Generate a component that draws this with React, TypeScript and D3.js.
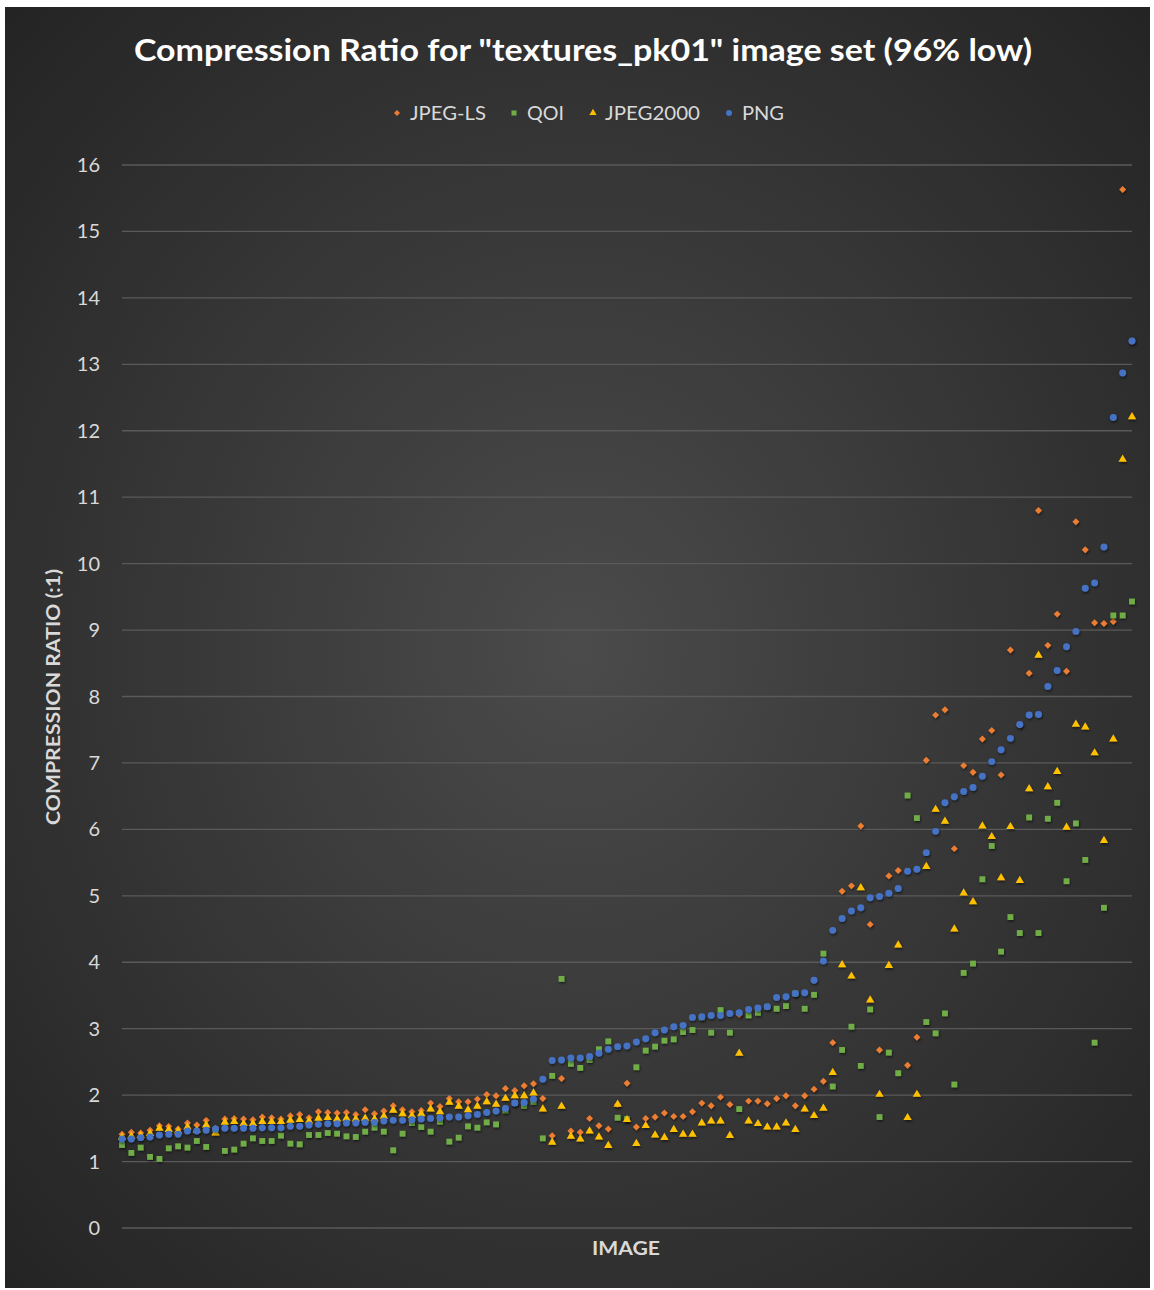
import React from "react";
import * as d3 from "d3";

const seriesNames = ["JPEG-LS", "QOI", "JPEG2000", "PNG"];
const seriesColors = ["#ED7D31", "#70AD47", "#FFC000", "#4472C4"];
const yTicks = [0, 1, 2, 3, 4, 5, 6, 7, 8, 9, 10, 11, 12, 13, 14, 15, 16];

const jpegLS = [
  1.41, 1.44, 1.43, 1.47, 1.54, 1.53, 1.49, 1.58, 1.55, 1.62,
  1.5, 1.64, 1.65, 1.64, 1.63, 1.67, 1.66, 1.64, 1.69, 1.71,
  1.66, 1.75, 1.74, 1.73, 1.74, 1.71, 1.78, 1.72, 1.76, 1.84,
  1.78, 1.75, 1.77, 1.88, 1.83, 1.95, 1.9, 1.9, 1.94, 2.01,
  1.99, 2.1, 2.07, 2.14, 2.17, 1.95, 1.39, 2.25, 1.46, 1.44,
  1.65, 1.54, 1.49, 1.86, 2.18, 1.52, 1.65, 1.67, 1.73, 1.68,
  1.68, 1.75, 1.88, 1.84, 1.97, 1.86, 3.21, 1.91, 1.91, 1.87,
  1.95, 1.99, 1.84, 1.99, 2.09, 2.21, 2.79, 5.07, 5.15, 6.05,
  4.57, 2.68, 5.3, 5.38, 2.45, 2.87, 7.04, 7.72, 7.8, 5.71,
  6.96, 6.86, 7.36, 7.49, 6.82, 8.7, 7.57, 8.35, 10.8, 8.77,
  9.24, 8.38, 10.63, 10.21, 9.11, 9.1, 9.13, 15.63, 13.35,
];

const qoi = [
  1.25, 1.13, 1.21, 1.07, 1.04, 1.2, 1.23, 1.21, 1.31, 1.22,
  1.48, 1.16, 1.18, 1.27, 1.35, 1.31, 1.31, 1.39, 1.27, 1.26,
  1.4, 1.4, 1.43, 1.42, 1.38, 1.37, 1.45, 1.51, 1.45, 1.17,
  1.42, 1.58, 1.52, 1.45, 1.6, 1.3, 1.36, 1.53, 1.51, 1.59,
  1.56, 1.77, 1.88, 1.84, 1.9, 1.35, 2.29, 3.75, 2.47, 2.41,
  2.53, 2.69, 2.81, 1.66, 1.64, 2.42, 2.67, 2.73, 2.82, 2.84,
  2.95, 2.98, 3.17, 2.94, 3.28, 2.94, 1.79, 3.2, 3.24, 3.33,
  3.3, 3.34, 3.53, 3.3, 3.51, 4.13, 2.13, 2.68, 3.03, 2.44,
  3.29, 1.67, 2.64, 2.33, 6.51, 6.17, 3.1, 2.93, 3.23, 2.16,
  3.84, 3.98, 5.25, 5.75, 4.16, 4.68, 4.44, 6.18, 4.44, 6.16,
  6.4, 5.22, 6.09, 5.54, 2.79, 4.82, 9.22, 9.22, 9.43,
];

const jpeg2000 = [
  1.37, 1.38, 1.39, 1.42, 1.5, 1.48, 1.46, 1.52, 1.47, 1.55,
  1.43, 1.59, 1.6, 1.57, 1.57, 1.6, 1.6, 1.6, 1.62, 1.63,
  1.61, 1.65, 1.66, 1.64, 1.65, 1.64, 1.65, 1.64, 1.68, 1.77,
  1.72, 1.69, 1.72, 1.79, 1.75, 1.89, 1.83, 1.78, 1.83, 1.9,
  1.86, 1.95, 1.99, 1.99, 2.03, 1.79, 1.29, 1.83, 1.38, 1.34,
  1.46, 1.37, 1.24, 1.86, 1.63, 1.27, 1.54, 1.4, 1.36, 1.48,
  1.41, 1.41, 1.58, 1.61, 1.61, 1.39, 2.63, 1.61, 1.57, 1.52,
  1.52, 1.58, 1.48, 1.79, 1.69, 1.8, 2.34, 3.96, 3.79, 5.12,
  3.43, 2.01, 3.95, 4.26, 1.66, 2.01, 5.44, 6.3, 6.12, 4.5,
  5.04, 4.91, 6.05, 5.89, 5.27, 6.04, 5.23, 6.61, 8.62, 6.64,
  6.87, 6.03, 7.58, 7.54, 7.15, 5.83, 7.36, 11.57, 12.21,
];

const png = [
  1.34, 1.34, 1.36, 1.37, 1.4, 1.41, 1.41, 1.46, 1.46, 1.47,
  1.49, 1.5, 1.5, 1.5, 1.5, 1.51, 1.51, 1.51, 1.53, 1.53,
  1.55, 1.56, 1.57, 1.57, 1.58, 1.58, 1.59, 1.59, 1.61, 1.62,
  1.62, 1.63, 1.64, 1.65, 1.66, 1.67, 1.67, 1.69, 1.71, 1.74,
  1.76, 1.8, 1.88, 1.89, 1.94, 2.24, 2.52, 2.53, 2.56, 2.56,
  2.58, 2.63, 2.69, 2.73, 2.74, 2.8, 2.85, 2.94, 2.98, 3.03,
  3.05, 3.17, 3.18, 3.2, 3.2, 3.23, 3.24, 3.29, 3.31, 3.33,
  3.47, 3.48, 3.53, 3.54, 3.73, 4.02, 4.48, 4.66, 4.77, 4.82,
  4.97, 4.99, 5.04, 5.11, 5.37, 5.4, 5.65, 5.97, 6.4, 6.49,
  6.57, 6.63, 6.8, 7.02, 7.2, 7.37, 7.58, 7.72, 7.73, 8.15,
  8.39, 8.75, 8.98, 9.63, 9.71, 10.25, 12.2, 12.87, 13.35,
];

const seriesData = [jpegLS, qoi, jpeg2000, png];

const W = 1154;
const H = 1290;
const FONT = "Lato, 'Open Sans', sans-serif";

const symbolTypes = [d3.symbolSquare, d3.symbolSquare, d3.symbolTriangle, d3.symbolCircle];
const symbolSizes = [24, 34, 30, 38];
const symbolRotate = [45, 0, 0, 0];

export default function App() {
  const n = png.length;
  const x = d3.scaleLinear().domain([1, n]).range([122, 1132]);
  const y = d3.scaleLinear().domain([0, 16]).range([1228, 165]);

  const paths = symbolTypes.map((t, i) => d3.symbol().type(t).size(symbolSizes[i])()!);
  const legendPaths = symbolTypes.map((t, i) => d3.symbol().type(t).size(symbolSizes[i] * 0.75)()!);

  const legendItems = [
    { sx: 397, tx: 410, len: 76 },
    { sx: 514, tx: 527, len: 37 },
    { sx: 593, tx: 605, len: 95 },
    { sx: 729, tx: 742, len: 42 },
  ];

  return (
    <svg
      width={W}
      height={H}
      style={{ position: "absolute", left: 0, top: 0, display: "block" }}
    >
      <defs>
        <radialGradient id="bg" cx="50%" cy="50%" r="72%">
          <stop offset="0%" stopColor="#4b4b4b" />
          <stop offset="100%" stopColor="#232323" />
        </radialGradient>
        <filter id="shadow" x="-50%" y="-50%" width="200%" height="200%">
          <feDropShadow dx="0.8" dy="1.5" stdDeviation="1" floodColor="#000" floodOpacity="0.55" />
        </filter>
      </defs>
      <rect x={0} y={0} width={W} height={H} fill="#ffffff" />
      <rect x={5} y={7} width={1145} height={1281} fill="url(#bg)" />

      <text
        x={583}
        y={61}
        textAnchor="middle"
        fill="#ffffff"
        fontFamily={FONT}
        fontWeight={700}
        fontSize={30}
        textLength={898}
        lengthAdjust="spacingAndGlyphs"
      >
        Compression Ratio for "textures_pk01" image set (96% low)
      </text>

      {legendItems.map((li, i) => (
        <g key={seriesNames[i]}>
          <path
            d={legendPaths[i]}
            transform={`translate(${li.sx},${113}) rotate(${symbolRotate[i]})`}
            fill={seriesColors[i]}
          />
          <text
            x={li.tx}
            y={120}
            fill="#d9d9d9"
            fontFamily={FONT}
            fontSize={20}
            textLength={li.len}
            lengthAdjust="spacingAndGlyphs"
          >
            {seriesNames[i]}
          </text>
        </g>
      ))}

      {yTicks.map((t) => (
        <g key={t}>
          <line x1={122} x2={1132} y1={y(t)} y2={y(t)} stroke="#5a5a5a" strokeWidth={1.3} />
          <text
            x={100}
            y={y(t) + 7}
            textAnchor="end"
            fill="#d9d9d9"
            fontFamily={FONT}
            fontSize={20}
          >
            {t}
          </text>
        </g>
      ))}

      <text
        transform={`translate(60,697) rotate(-90)`}
        textAnchor="middle"
        fill="#d9d9d9"
        fontFamily={FONT}
        fontWeight={700}
        fontSize={19}
        textLength={256}
        lengthAdjust="spacingAndGlyphs"
      >
        COMPRESSION RATIO (:1)
      </text>

      <text
        x={626}
        y={1255}
        textAnchor="middle"
        fill="#d9d9d9"
        fontFamily={FONT}
        fontWeight={700}
        fontSize={19}
        textLength={68}
        lengthAdjust="spacingAndGlyphs"
      >
        IMAGE
      </text>

      {seriesData.map((vals, si) => (
        <g key={seriesNames[si]} filter="url(#shadow)">
          {vals.map((v, i) => (
            <path
              key={i}
              d={paths[si]}
              transform={`translate(${x(i + 1)},${y(v)}) rotate(${symbolRotate[si]})`}
              fill={seriesColors[si]}
            />
          ))}
        </g>
      ))}
    </svg>
  );
}
